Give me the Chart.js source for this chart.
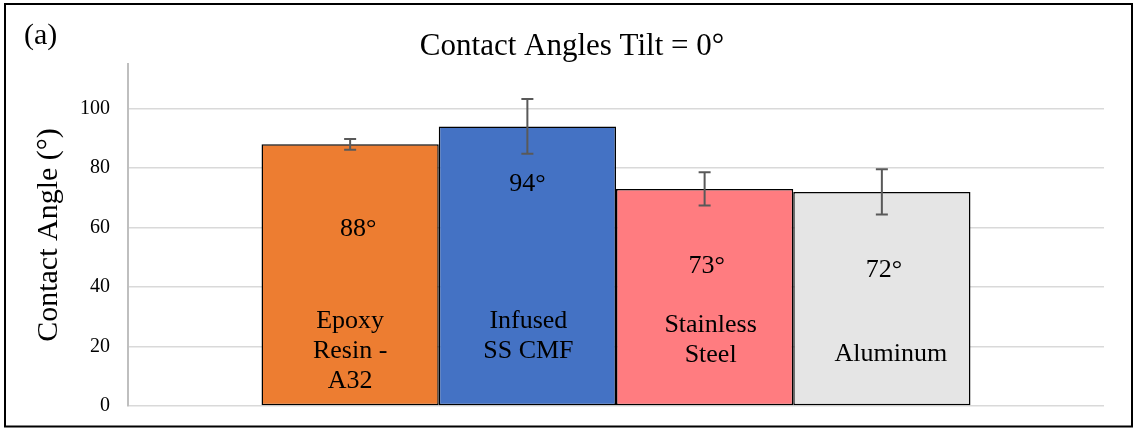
<!DOCTYPE html>
<html>
<head>
<meta charset="utf-8">
<script src="https://cdn.jsdelivr.net/npm/chart.js@4/dist/chart.umd.min.js"></script>
<style>
  html, body { margin: 0; padding: 0; background: #fff; }
  #wrap { width: 1133px; height: 429px; position: relative; }
</style>
</head>
<body>
<div id="wrap"><canvas id="chart" width="1133" height="429"></canvas></div>
<script>
// Materials compared and their measured contact angles (degrees)
const materials = ['Epoxy Resin - A32', 'Infused SS CMF', 'Stainless Steel', 'Aluminum'];
const nameLines = [['Epoxy', 'Resin -', 'A32'], ['Infused', 'SS CMF'], ['Stainless', 'Steel'], ['Aluminum']];
const contactAngles = [88, 94, 73, 72];
const angleErrors = [1.8, 9.2, 5.6, 7.6];
const barColors = ['#ED7D31', '#4472C4', '#FF7C80', '#E5E5E5'];
const yTicks = [0, 20, 40, 60, 80, 100];

const SERIF = '"Liberation Serif", "Times New Roman", serif';

// Where the in-bar texts sit: value label baseline below the bar top,
// first name line baseline above the axis, and small horizontal nudges.
const labelLayout = {
  valueDrop: [92, 65, 84, 85],
  valueShift: [8, 0, 2, 2],
  nameRise: [78, 78, 74, 45],
  nameShift: [0, 1, 6, 9],
  lineStep: 30
};

const datasets = materials.map((m, i) => ({
  label: m,
  data: [contactAngles[i]],
  backgroundColor: barColors[i],
  borderColor: '#000000',
  borderWidth: 1.5,
  borderSkipped: false,
  barPercentage: 1.0,
  categoryPercentage: 0.7264
}));

// Outer frame, panel letter and chart title
const framePlugin = {
  id: 'frame',
  beforeDraw(chart) {
    const ctx = chart.ctx;
    ctx.save();
    ctx.fillStyle = '#ffffff';
    ctx.fillRect(0, 0, chart.width, chart.height);
    ctx.restore();
  },
  afterDraw(chart) {
    const ctx = chart.ctx;
    ctx.save();
    ctx.strokeStyle = '#000000';
    ctx.lineWidth = 2;
    ctx.strokeRect(5, 4, chart.width - 6, chart.height - 6.5);
    ctx.fillStyle = '#000000';
    ctx.textBaseline = 'alphabetic';
    ctx.font = '30px ' + SERIF;
    ctx.textAlign = 'left';
    ctx.fillText('(a)', 24, 44);
    ctx.font = '31px ' + SERIF;
    ctx.textAlign = 'center';
    ctx.fillText('Contact Angles Tilt = 0\u00B0', 572, 55);
    ctx.restore();
  }
};

// Error bars and in-bar labels, positioned from each bar element
const barAnnotations = {
  id: 'barAnnotations',
  afterDatasetsDraw(chart) {
    const ctx = chart.ctx;
    const y = chart.scales.y;
    ctx.save();
    chart.data.datasets.forEach((ds, i) => {
      const bar = chart.getDatasetMeta(i).data[0];
      const v = contactAngles[i];
      const e = angleErrors[i];
      const cx = bar.x;
      const yHi = y.getPixelForValue(v + e);
      const yLo = y.getPixelForValue(v - e);
      ctx.strokeStyle = '#595959';
      ctx.lineWidth = 2;
      ctx.beginPath();
      ctx.moveTo(cx, yHi); ctx.lineTo(cx, yLo);
      ctx.moveTo(cx - 6, yHi); ctx.lineTo(cx + 6, yHi);
      ctx.moveTo(cx - 6, yLo); ctx.lineTo(cx + 6, yLo);
      ctx.stroke();

      ctx.fillStyle = '#000000';
      ctx.font = '26px ' + SERIF;
      ctx.textAlign = 'center';
      ctx.textBaseline = 'alphabetic';
      ctx.fillText(v + '\u00B0', cx + labelLayout.valueShift[i], bar.y + labelLayout.valueDrop[i]);

      const base = y.getPixelForValue(0);
      nameLines[i].forEach((line, k) => {
        ctx.fillText(line, cx + labelLayout.nameShift[i],
          base - labelLayout.nameRise[i] + k * labelLayout.lineStep);
      });
    });
    ctx.restore();
  }
};

new Chart(document.getElementById('chart'), {
  type: 'bar',
  data: { labels: [''], datasets },
  options: {
    responsive: false,
    animation: false,
    layout: { padding: { top: 64, right: 29, bottom: 23, left: 0 } },
    plugins: { legend: { display: false }, tooltip: { enabled: false }, title: { display: false } },
    scales: {
      x: {
        display: false,
        ticks: { display: false },
        grid: { display: false, drawTicks: false },
        afterFit(scale) { scale.height = 0; }
      },
      y: {
        min: 0,
        max: 115,
        afterFit(scale) { scale.width = 128; },
        afterBuildTicks(scale) {
          scale.ticks = yTicks.map(v => ({ value: v }));
        },
        grid: {
          color: '#D9D9D9',
          lineWidth: 1.5,
          drawTicks: true,
          tickLength: 18,
          tickColor: 'rgba(0,0,0,0)'
        },
        border: { display: true, color: '#BFBFBF', width: 2 },
        ticks: {
          padding: 0,
          color: '#000000',
          font: { family: SERIF, size: 20 }
        },
        title: {
          display: true,
          text: 'Contact Angle (\u00B0)',
          color: '#000000',
          padding: { top: 31, bottom: 0 },
          font: { family: SERIF, size: 30 }
        }
      }
    }
  },
  plugins: [framePlugin, barAnnotations]
});
</script>
</body>
</html>
